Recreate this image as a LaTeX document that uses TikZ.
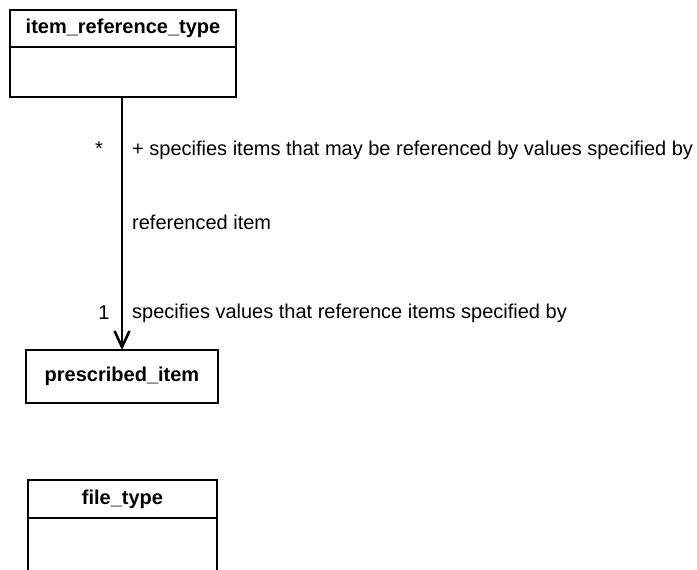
\documentclass[tikz,border=0pt]{standalone}
\usepackage{fontspec}
\setmainfont{Liberation Sans}
\usepackage{tikz}
\usetikzlibrary{arrows.meta,positioning}

\newcommand{\umlfont}{\fontsize{20}{24}\selectfont}
\tikzset{
classhead/.style={draw,line width=2.6pt,outer sep=0pt,minimum width=226pt,minimum height=37pt,inner sep=0pt,font=\umlfont\bfseries},
classbody/.style={draw,line width=2.6pt,outer sep=0pt,minimum width=226pt,minimum height=50pt,inner sep=0pt},
lbl/.style={inner sep=0pt,anchor=west}
}

\begin{document}
\begin{tikzpicture}[x=1pt,y=-1pt,font=\umlfont]
\useasboundingbox(0,0)rectangle(697,570);
\node[classhead](irthead)at(123,28.5){item\_reference\_type};
\node[classbody,below=0pt of irthead](irtbody){};
\node[classhead,minimum width=192pt,minimum height=53pt](prescribed)at(122,376.5){prescribed\_item};
\node[classhead,minimum width=189pt,minimum height=38pt](fthead)at(122.5,499){file\_type};
\node[classbody,minimum width=189pt,minimum height=60pt,below=0pt of fthead](ftbody){};
\draw[line width=2.6pt,-{Straight Barb[length=16pt,width=15pt,line width=2.6pt]}](irtbody.south-|prescribed.north)--(prescribed.north);
\node[inner sep=0pt](star)at(99,149){*};
\node[lbl](rolea)at(132,150){+ specifies items that may be referenced by values specified by};
\node[lbl](assoc)at(132,222){referenced item};
\node[inner sep=0pt](one)at(104,313){1};
\node[lbl](roleb)at(132,313){specifies values that reference items specified by};
\end{tikzpicture}
\end{document}
